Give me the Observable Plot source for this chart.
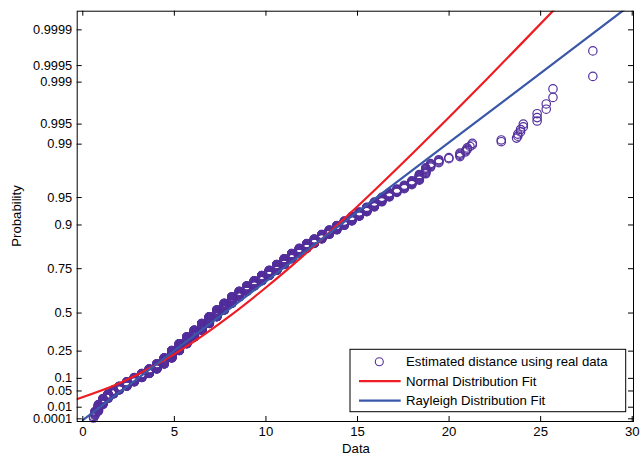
<!DOCTYPE html>
<html>
<head>
<meta charset="utf-8">
<script src="https://cdn.jsdelivr.net/npm/d3@7"></script>
<script src="https://cdn.jsdelivr.net/npm/@observablehq/plot@0.6"></script>
<style>
  body { margin: 0; background: #fff; }
  #chart svg { display: block; }
</style>
</head>
<body>
<div id="chart"></div>
<script>
// ---- data ----
// distinct observed distance values (ties) and the cumulative number of samples up to each value
const levels = [0.585, 0.664, 0.853, 1.102, 1.380, 1.678,
  1.991, 2.400, 2.810, 3.220, 3.629, 4.039, 4.448, 4.858, 5.268, 5.677,
  6.087, 6.497, 6.906, 7.316, 7.725, 8.135, 8.545, 8.954, 9.364, 9.774,
  10.183, 10.593, 11.002, 11.412, 11.822, 12.231, 12.641, 13.050, 13.460, 13.870,
  14.279, 14.689, 15.099, 15.508, 15.918, 16.327, 16.737, 17.147, 17.556, 17.966,
  18.376,
  18.725, 18.994, 19.441, 19.988, 20.595, 20.903, 20.992, 21.141, 21.270, 22.850,
  23.685, 23.754, 23.903, 24.053, 24.808, 25.305, 25.673, 27.850];
const cumCounts = [2, 9, 28, 53, 77, 101,
  127, 161, 197, 234, 278, 330, 396, 482, 565, 649,
  735, 820, 904, 987, 1067, 1141, 1203, 1260, 1313, 1364,
  1411, 1461, 1507, 1546, 1581, 1612, 1639, 1664, 1687, 1708,
  1727, 1746, 1762, 1778, 1793, 1806, 1817, 1825, 1833, 1841,
  1851,
  1860, 1865, 1869, 1871, 1875, 1877, 1879, 1880, 1882, 1884,
  1885, 1887, 1889, 1891, 1894, 1896, 1898, 1900];

// fitted normal distribution curve (x, cumulative probability)
const redX = [-0.3, 2, 4, 6, 8, 10, 12, 14, 16, 18, 20, 22, 24, 26];
const redP = [0.02668, 0.0790, 0.1687, 0.3061, 0.4783, 0.6548, 0.8025, 0.90374,
  0.96043, 0.98638, 0.99610, 0.999075, 0.999819, 0.9999706];

// fitted Rayleigh distribution line (x, cumulative probability)
const blueX = [0, 5, 10, 15, 20, 25, 30];
const blueP = [0, 0.2527, 0.68822, 0.92736, 0.990546, 0.999314, 0.9999722];

const xTicks = [0, 5, 10, 15, 20, 25, 30];
const yTickP = [0.0001, 0.01, 0.05, 0.1, 0.25, 0.5, 0.75, 0.9, 0.95, 0.99, 0.995, 0.999, 0.9995, 0.9999];
const yTickLabels = ["0.0001", "0.01", "0.05", "0.1", "0.25", "0.5", "0.75", "0.9", "0.95", "0.99", "0.995", "0.999", "0.9995", "0.9999"];
const legendLabels = ["Estimated distance using real data", "Normal Distribution Fit", "Rayleigh Distribution Fit"];
const xLabel = "Data";
const yLabel = "Probability";

// ---- probability-plot (Rayleigh paper) transform ----
const rt = p => Math.sqrt(-2 * Math.log(1 - p));

// plotting positions (i - 0.5) / n for the sorted sample
const n = cumCounts[cumCounts.length - 1];
const samples = [];
let rank = 0;
levels.forEach((v, j) => {
  while (rank < cumCounts[j]) {
    rank++;
    samples.push({x: v, p: (rank - 0.5) / n});
  }
});
const red = redX.map((x, i) => ({x, p: redP[i]}));
const blue = blueX.map((x, i) => ({x, p: blueP[i]}));
const yT = yTickP.map(rt);
const labelOf = new Map(yT.map((t, i) => [t, yTickLabels[i]]));

const colData = "#54309c", colRed = "#ee1d23", colBlue = "#3a57a8";
const W = 641, H = 458, mL = 76.7, mR = 8, mT = 10.7, mB = 37;
const innerW = W - mL - mR, innerH = H - mT - mB;
const font = "'Liberation Sans', Arial, Helvetica, sans-serif";
const fs = 13.2;

const plot = Plot.plot({
  width: W, height: H,
  marginLeft: mL, marginRight: mR, marginTop: mT, marginBottom: mB,
  style: {fontFamily: font, fontSize: fs + "px", background: "white", color: "black"},
  x: {domain: [-0.306, 30.07]},
  y: {domain: [-0.0154, 4.497]},
  marks: [
    Plot.dot(samples, {x: "x", y: d => rt(d.p), r: 4.2, stroke: colData, strokeWidth: 1.2, fill: "none"}),
    Plot.line(red, {x: "x", y: d => rt(d.p), stroke: colRed, strokeWidth: 2.2, curve: "monotone-x", clip: true}),
    Plot.line(blue, {x: "x", y: d => rt(d.p), stroke: colBlue, strokeWidth: 2.2, clip: true}),
    Plot.frame({stroke: "black", strokeWidth: 1}),
    Plot.tickX(xTicks, {x: d => d, insetTop: innerH - 5, stroke: "black"}),
    Plot.tickX(xTicks, {x: d => d, insetBottom: innerH - 5, stroke: "black"}),
    Plot.tickY(yT, {y: d => d, insetRight: innerW - 5, stroke: "black"}),
    Plot.tickY(yT, {y: d => d, insetLeft: innerW - 5, stroke: "black"}),
    Plot.axisX({ticks: xTicks, tickSize: 0, tickPadding: 5, label: null, tickFormat: d => String(d)}),
    Plot.axisY({ticks: yT, tickSize: 0, tickPadding: 5, label: null, fontSize: 12.8, tickFormat: d => labelOf.get(d) ?? ""})
  ]
});

const svg = d3.select(plot);
svg.append("text")
  .attr("x", 356).attr("y", 453)
  .attr("text-anchor", "middle")
  .attr("font-family", font).attr("font-size", fs).attr("fill", "black")
  .text(xLabel);
svg.append("text")
  .attr("transform", "translate(20.5,216) rotate(-90)")
  .attr("text-anchor", "middle")
  .attr("font-family", font).attr("font-size", fs).attr("fill", "black")
  .text(yLabel);

// legend
const lg = svg.append("g");
lg.append("rect").attr("x", 350).attr("y", 349.3).attr("width", 275.7).attr("height", 62.4)
  .attr("fill", "white").attr("stroke", "black").attr("stroke-width", 1);
const rows = [361.7, 381.2, 400.7];
lg.append("circle").attr("cx", 379.3).attr("cy", rows[0]).attr("r", 4)
  .attr("fill", "none").attr("stroke", colData).attr("stroke-width", 1.1);
lg.append("line").attr("x1", 359).attr("x2", 400.7).attr("y1", rows[1]).attr("y2", rows[1])
  .attr("stroke", colRed).attr("stroke-width", 2.2);
lg.append("line").attr("x1", 359).attr("x2", 400.7).attr("y1", rows[2]).attr("y2", rows[2])
  .attr("stroke", colBlue).attr("stroke-width", 2.2);
legendLabels.forEach((s, i) => {
  lg.append("text").attr("x", 406).attr("y", rows[i] + 4.7)
    .attr("text-anchor", "start")
    .attr("font-family", font).attr("font-size", fs).attr("fill", "black")
    .text(s);
});

document.getElementById("chart").appendChild(plot);
</script>
</body>
</html>
